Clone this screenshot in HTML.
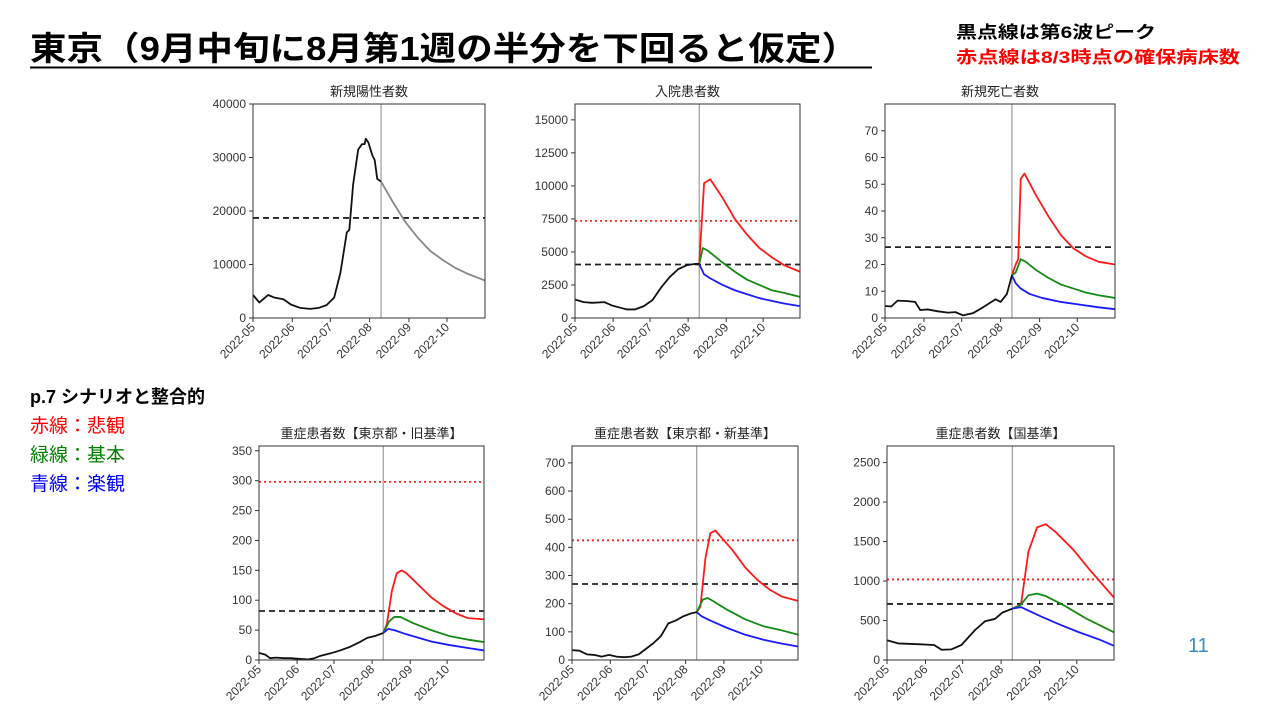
<!DOCTYPE html>
<html><head><meta charset="utf-8"><style>
html,body{margin:0;padding:0;background:#fff;width:1280px;height:720px;overflow:hidden}
svg{display:block}
text{font-family:"Liberation Sans","Noto Sans CJK JP",sans-serif}
</style></head><body>
<svg id="s" width="1280" height="720" xmlns="http://www.w3.org/2000/svg">
<text x="30" y="60" font-size="33" font-weight="bold" textLength="828" lengthAdjust="spacingAndGlyphs" font-family="Noto Sans CJK JP, sans-serif">東京（9月中旬に8月第1週の半分を下回ると仮定）</text>
<line x1="30" y1="67.5" x2="872" y2="67.5" stroke="#000" stroke-width="2"/>
<text x="956" y="38" font-size="17" font-weight="bold" textLength="200" lengthAdjust="spacingAndGlyphs">黒点線は第6波ピーク</text>
<text x="956" y="63" font-size="17" font-weight="bold" fill="#ff0000" textLength="284" lengthAdjust="spacingAndGlyphs">赤点線は8/3時点の確保病床数</text>
<text x="30" y="403" font-size="18" font-weight="bold">p.7 シナリオと整合的</text>
<text x="30" y="432" font-size="19" fill="#ff0000">赤線：悲観</text>
<text x="30" y="461" font-size="19" fill="#008000">緑線：基本</text>
<text x="30" y="490" font-size="19" fill="#0000ff">青線：楽観</text>
<text x="1188" y="652" font-size="20" fill="#3a8fc0">11</text>
</svg>
<script>
// x tick labels and month positions (days from 2022-05-01)
const monthLabels=["2022-05","2022-06","2022-07","2022-08","2022-09","2022-10"];
const monthDays=[0,31,61,92,123,153];
const xMax=183, splitDay=101;
// chart 1: new positives
const c1ActDays=[0,5,12,17,24,30,37,45,52,58,64,69,74,76,79,83,86,88,89,91,94,96,98,101];
const c1ActVals=[4300,2900,4300,3800,3500,2500,1900,1700,1900,2400,3800,8500,16000,16500,25000,31500,32500,32500,33500,32800,30500,29500,26000,25500];
const c1ProjDays=[101,110,120,130,140,150,160,170,183];
const c1ProjVals=[25500,21800,18000,15000,12500,10800,9300,8200,7000];
// chart 2: hospitalised
const c2ActDays=[0,7,14,24,30,36,42,49,56,63,70,77,84,91,98,101];
const c2ActVals=[1400,1200,1150,1200,950,800,650,650,900,1350,2300,3100,3700,4000,4100,4100];
const c2RedDays=[101,105,110,120,130,140,150,160,170,183];
const c2RedVals=[4100,10200,10500,9100,7500,6300,5300,4600,4000,3500];
const c2GreenDays=[101,104,108,120,130,140,150,160,170,183];
const c2GreenVals=[4100,5300,5100,4200,3500,2900,2500,2100,1900,1600];
const c2BlueDays=[101,105,110,120,130,140,150,160,170,183];
const c2BlueVals=[4100,3300,3000,2500,2100,1800,1500,1300,1100,900];
// chart 3: deaths
const c3ActDays=[0,5,10,18,24,28,34,42,50,56,62,70,78,88,92,97,101];
const c3ActVals=[4.5,4.3,6.5,6.3,6,3,3.2,2.5,2,2.2,1,1.8,4,7,6,9,16];
const c3RedDays=[101,104,106,108,111,120,130,140,150,160,170,183];
const c3RedVals=[16,20,22,52,54,46,38,31,26,23,21,20];
const c3GreenDays=[101,104,108,112,120,130,140,150,160,170,183];
const c3GreenVals=[16,17,22,21,18,15,12.5,11,9.5,8.5,7.5];
const c3BlueDays=[101,104,108,115,125,140,155,170,183];
const c3BlueVals=[16,13,11,9,7.5,6,5,4,3.3];
// chart 4: severe (Tokyo old)
const c4ActDays=[0,5,9,14,20,26,32,40,45,50,58,66,74,82,88,94,101];
const c4ActVals=[12,9,3,4,3,3,2,1,3,7,11,16,22,30,37,40,45];
const c4RedDays=[101,104,108,112,116,120,130,140,150,160,170,183];
const c4RedVals=[45,60,115,145,150,145,125,105,90,78,70,68];
const c4GreenDays=[101,106,110,115,125,140,155,170,183];
const c4GreenVals=[45,65,72,72,62,50,40,34,30];
const c4BlueDays=[101,105,110,120,130,140,155,170,183];
const c4BlueVals=[45,52,50,43,37,31,25,20,16];
// chart 5: severe (Tokyo new)
const c5ActDays=[0,6,12,18,24,30,36,42,48,54,60,66,72,78,84,90,96,101];
const c5ActVals=[35,33,20,18,12,18,12,10,12,20,40,60,85,130,140,155,165,170];
const c5RedDays=[101,104,108,112,116,120,130,140,150,160,170,183];
const c5RedVals=[170,190,360,450,460,440,390,330,285,250,225,210];
const c5GreenDays=[101,106,110,114,125,140,155,170,183];
const c5GreenVals=[170,215,220,210,180,145,120,105,90];
const c5BlueDays=[101,105,112,125,140,155,170,183];
const c5BlueVals=[170,155,140,115,90,72,58,48];
// chart 6: severe (national)
const c6ActDays=[0,9,25,38,44,52,60,71,79,87,93,101];
const c6ActVals=[250,210,200,190,130,135,190,380,490,520,600,650];
const c6RedDays=[101,108,114,121,128,136,150,163,183];
const c6RedVals=[650,700,1370,1680,1720,1620,1400,1150,790];
const c6GreenDays=[101,108,114,121,128,144,160,183];
const c6GreenVals=[650,700,820,840,810,680,530,350];
const c6BlueDays=[101,108,123,139,155,171,183];
const c6BlueVals=[650,670,560,450,350,260,180];

const c1Ticks=[0,10000,20000,30000,40000];
const c2Ticks=[0,2500,5000,7500,10000,12500,15000];
const c3Ticks=[0,10,20,30,40,50,60,70];
const c4Ticks=[0,50,100,150,200,250,300,350];
const c5Ticks=[0,100,200,300,400,500,600,700];
const c6Ticks=[0,500,1000,1500,2000,2500];

const NS="http://www.w3.org/2000/svg";
const svg=document.getElementById('s');
function el(tag,attrs,parent){const e=document.createElementNS(NS,tag);for(const k in attrs)e.setAttribute(k,attrs[k]);(parent||svg).appendChild(e);return e;}

function chart(o){
  const g=el('g',{});
  
  
  const X=d=>o.l+(o.r-o.l)*d/xMax;
  const Y=v=>o.b-(o.b-o.t)*v/o.yMax;
  const t=el('text',{x:(o.l+o.r)/2,y:o.t-8,'font-size':13,'text-anchor':'middle',fill:'#222'},g);
  t.textContent=o.title;
  
  
  o.ticks.forEach(v=>{
    el('line',{x1:o.l-4,x2:o.l,y1:Y(v),y2:Y(v),stroke:'#333'},g);
    const tx=el('text',{x:o.l-7,y:Y(v)+4,'font-size':12,'text-anchor':'end',fill:'#333'},g);
    tx.textContent=v;
    
    
  });
  monthDays.forEach((d,i)=>{
    const x=X(d);
    el('line',{x1:x,x2:x,y1:o.b,y2:o.b+4,stroke:'#333'},g);
    const tx=el('text',{x:x+3,y:o.b+10,'font-size':12,'text-anchor':'end',fill:'#333',transform:`rotate(-45 ${x+3} ${o.b+10})`},g);
    tx.textContent=monthLabels[i];
    
    
  });
  if(o.dotted!=null){const ln=el('line',{x1:o.l,x2:o.r,y1:Y(o.dotted),y2:Y(o.dotted),stroke:'#ff2020','stroke-width':1.8,'stroke-dasharray':'2 3'},g);
    }
  if(o.dashed!=null){const ln=el('line',{x1:o.l,x2:o.r,y1:Y(o.dashed),y2:Y(o.dashed),stroke:'#222','stroke-width':1.8,'stroke-dasharray':'6 4'},g);
    }
  const vl=el('line',{x1:X(splitDay),x2:X(splitDay),y1:o.t,y2:o.b,stroke:'#888','stroke-width':1},g);
  
  o.series.forEach(s=>{
    const p=el('polyline',{points:s.d.map((d,i)=>X(d)+','+Y(s.v[i])).join(' '),fill:'none',stroke:s.c,'stroke-width':1.8,'stroke-linejoin':'round'},g);
    
    
  });
  const fr=el('rect',{x:o.l,y:o.t,width:o.r-o.l,height:o.b-o.t,fill:'none',stroke:'#333','stroke-width':1},g);
  
}
chart({name:'chart-new-positives',title:'新規陽性者数',l:253,r:485,t:104,b:318,yMax:40000,ticks:c1Ticks,dashed:18700,
  series:[{d:c1ProjDays,v:c1ProjVals,c:'#888',n:'projection-line'},{d:c1ActDays,v:c1ActVals,c:'#111',n:'actual-line'}]});
chart({name:'chart-hospitalised',title:'入院患者数',l:575,r:800,t:104,b:318,yMax:16200,ticks:c2Ticks,dashed:4050,dotted:7350,
  series:[{d:c2RedDays,v:c2RedVals,c:'#ff1a1a',n:'pessimistic-line'},{d:c2GreenDays,v:c2GreenVals,c:'#138a13',n:'base-line'},{d:c2BlueDays,v:c2BlueVals,c:'#1a1aff',n:'optimistic-line'},{d:c2ActDays,v:c2ActVals,c:'#111',n:'actual-line'}]});
chart({name:'chart-deaths',title:'新規死亡者数',l:885,r:1115,t:104,b:318,yMax:80,ticks:c3Ticks,dashed:26.5,
  series:[{d:c3RedDays,v:c3RedVals,c:'#ff1a1a',n:'pessimistic-line'},{d:c3GreenDays,v:c3GreenVals,c:'#138a13',n:'base-line'},{d:c3BlueDays,v:c3BlueVals,c:'#1a1aff',n:'optimistic-line'},{d:c3ActDays,v:c3ActVals,c:'#111',n:'actual-line'}]});
chart({name:'chart-severe-tokyo-old',title:'重症患者数【東京都・旧基準】',l:259,r:484,t:446,b:660,yMax:358,ticks:c4Ticks,dashed:82,dotted:298,
  series:[{d:c4RedDays,v:c4RedVals,c:'#ff1a1a',n:'pessimistic-line'},{d:c4GreenDays,v:c4GreenVals,c:'#138a13',n:'base-line'},{d:c4BlueDays,v:c4BlueVals,c:'#1a1aff',n:'optimistic-line'},{d:c4ActDays,v:c4ActVals,c:'#111',n:'actual-line'}]});
chart({name:'chart-severe-tokyo-new',title:'重症患者数【東京都・新基準】',l:572,r:798,t:446,b:660,yMax:760,ticks:c5Ticks,dashed:270,dotted:425,
  series:[{d:c5RedDays,v:c5RedVals,c:'#ff1a1a',n:'pessimistic-line'},{d:c5GreenDays,v:c5GreenVals,c:'#138a13',n:'base-line'},{d:c5BlueDays,v:c5BlueVals,c:'#1a1aff',n:'optimistic-line'},{d:c5ActDays,v:c5ActVals,c:'#111',n:'actual-line'}]});
chart({name:'chart-severe-national',title:'重症患者数【国基準】',l:887,r:1114,t:446,b:660,yMax:2710,ticks:c6Ticks,dashed:710,dotted:1020,
  series:[{d:c6RedDays,v:c6RedVals,c:'#ff1a1a',n:'pessimistic-line'},{d:c6GreenDays,v:c6GreenVals,c:'#138a13',n:'base-line'},{d:c6BlueDays,v:c6BlueVals,c:'#1a1aff',n:'optimistic-line'},{d:c6ActDays,v:c6ActVals,c:'#111',n:'actual-line'}]});
</script>
</body></html>
